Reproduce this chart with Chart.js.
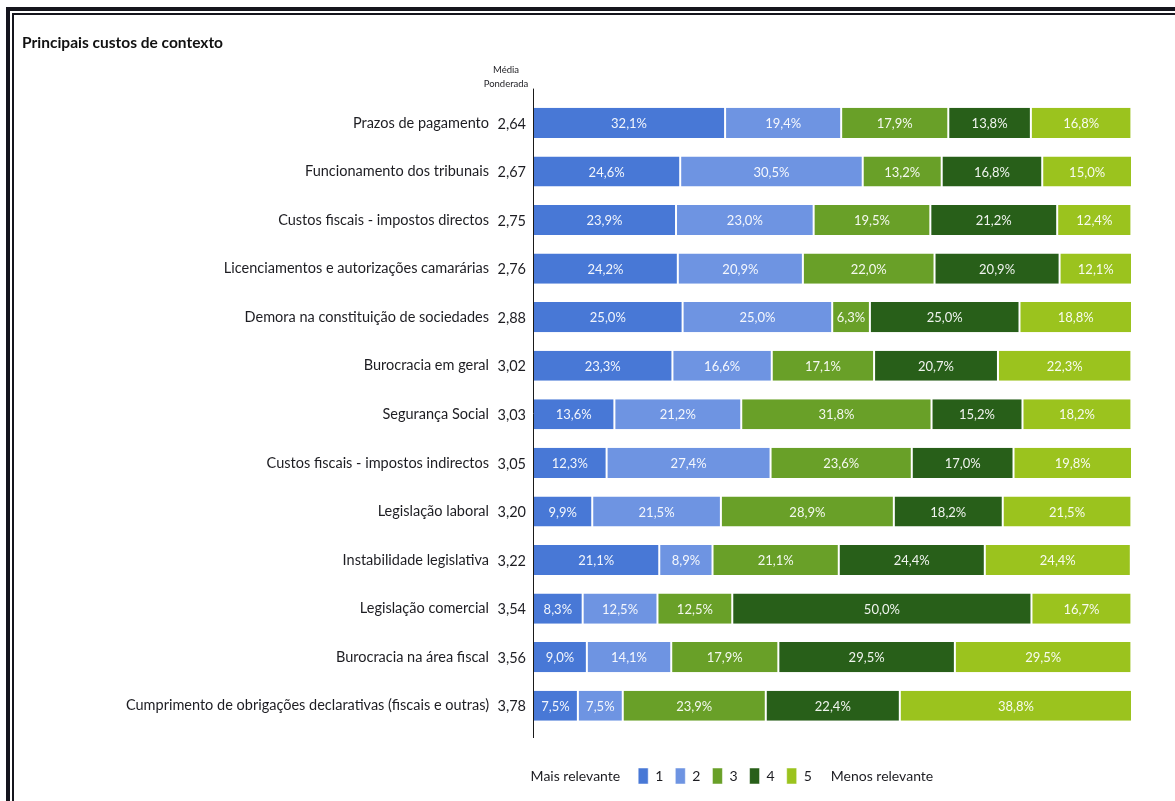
<!DOCTYPE html>
<html lang="pt">
<head>
<meta charset="utf-8">
<title>Principais custos de contexto</title>
<script src="https://cdn.jsdelivr.net/npm/chart.js@4.4.1/dist/chart.umd.min.js"></script>
<style>
  html, body { margin: 0; padding: 0; background: #ffffff; }
  #wrap { position: relative; width: 1175px; height: 801px; overflow: hidden; background: #ffffff; }
  #wrap canvas { position: absolute; left: 0; top: 0; }
  .rule { position: absolute; background: #15151d; }
</style>
</head>
<body>
<div id="wrap">
  <!-- double frame rule, top and left -->
  <div class="rule" style="left:6px;top:7px;width:4px;height:794px"></div>
  <div class="rule" style="left:6px;top:7px;width:1169px;height:4px"></div>
  <div class="rule" style="left:12px;top:13px;width:2px;height:788px"></div>
  <div class="rule" style="left:12px;top:13px;width:1163px;height:2px"></div>
  <canvas id="chart" width="1175" height="801"></canvas>
</div>
<script>
// Cost items, ordered by weighted average of relevance
const categorias = [
  'Prazos de pagamento',
  'Funcionamento dos tribunais',
  'Custos fiscais - impostos directos',
  'Licenciamentos e autorizações camarárias',
  'Demora na constituição de sociedades',
  'Burocracia em geral',
  'Segurança Social',
  'Custos fiscais - impostos indirectos',
  'Legislação laboral',
  'Instabilidade legislativa',
  'Legislação comercial',
  'Burocracia na área fiscal',
  'Cumprimento de obrigações declarativas (fiscais e outras)'
];

const mediaPonderada = [2.64, 2.67, 2.75, 2.76, 2.88, 3.02, 3.03, 3.05, 3.20, 3.22, 3.54, 3.56, 3.78];

// Share of answers (%) per relevance level, 1 = most relevant, 5 = least relevant
const nivel1 = [32.1, 24.6, 23.9, 24.2, 25.0, 23.3, 13.6, 12.3,  9.9, 21.1,  8.3,  9.0,  7.5];
const nivel2 = [19.4, 30.5, 23.0, 20.9, 25.0, 16.6, 21.2, 27.4, 21.5,  8.9, 12.5, 14.1,  7.5];
const nivel3 = [17.9, 13.2, 19.5, 22.0,  6.3, 17.1, 31.8, 23.6, 28.9, 21.1, 12.5, 17.9, 23.9];
const nivel4 = [13.8, 16.8, 21.2, 20.9, 25.0, 20.7, 15.2, 17.0, 18.2, 24.4, 50.0, 29.5, 22.4];
const nivel5 = [16.8, 15.0, 12.4, 12.1, 18.8, 22.3, 18.2, 19.8, 21.5, 24.4, 16.7, 29.5, 38.8];

const niveis = ['1', '2', '3', '4', '5'];
const cores = ['#4878d6', '#6e94e2', '#69a028', '#285f19', '#9bc31e'];

const fonte = "Lato, 'Open Sans', 'DejaVu Sans', sans-serif";
const corTexto = '#1d1d22';

const series = [nivel1, nivel2, nivel3, nivel4, nivel5];
const totalMax = Math.max(...categorias.map((_, i) => series.reduce((s, d) => s + d[i], 0)));

const virgula = (v, casas) => v.toFixed(casas).replace('.', ',');

// Percent labels inside each segment, weighted-average column, header and axis line
const anotacoes = {
  id: 'anotacoes',
  afterDatasetsDraw(chart) {
    const ctx = chart.ctx;
    const area = chart.chartArea;
    const y = chart.scales.y;

    ctx.save();
    ctx.font = `13px ${fonte}`;
    ctx.fillStyle = 'rgba(255,255,255,0.93)';
    ctx.textAlign = 'center';
    ctx.textBaseline = 'middle';
    chart.data.datasets.forEach((ds, di) => {
      chart.getDatasetMeta(di).data.forEach((bar, i) => {
        const v = ds.data[i];
        ctx.fillText(virgula(v, 1) + '%', (bar.x + bar.base) / 2, bar.y + 1);
      });
    });

    // axis line, running a little past the first and last rows
    ctx.strokeStyle = '#1a1a1a';
    ctx.lineWidth = 1;
    ctx.beginPath();
    ctx.moveTo(Math.round(area.left) + 0.5, area.top - 10);
    ctx.lineTo(Math.round(area.left) + 0.5, area.bottom + 8);
    ctx.stroke();

    // weighted average column
    ctx.font = `14.5px ${fonte}`;
    ctx.fillStyle = corTexto;
    ctx.textAlign = 'right';
    mediaPonderada.forEach((m, i) => {
      ctx.fillText(virgula(m, 2), area.left - 7, y.getPixelForValue(i) + 1);
    });

    ctx.font = `9.5px ${fonte}`;
    ctx.textAlign = 'center';
    ctx.fillText('Média', area.left - 27, area.top - 29);
    ctx.fillText('Ponderada', area.left - 27, area.top - 15);
    ctx.restore();
  },
  afterLayout(chart) {
    // centre the legend row under the bars' left half
    const lg = chart.legend;
    const delta = 725 - (lg.left + lg.right) / 2;
    lg.left += delta;
    lg.right += delta;
  },
  afterDraw(chart) {
    const lg = chart.legend;
    const pad = lg.options.labels.padding;
    const lw = lg.lineWidths[0];
    const inicio = (lg.left + pad + lg.right - lw) / 2;
    const fim = inicio + lw - pad;
    const yc = lg.top + pad + 8;
    const ctx = chart.ctx;
    ctx.save();
    ctx.font = `14px ${fonte}`;
    ctx.fillStyle = corTexto;
    ctx.textBaseline = 'middle';
    ctx.textAlign = 'right';
    ctx.fillText('Mais relevante', inicio - 18, yc);
    ctx.textAlign = 'left';
    ctx.fillText('Menos relevante', fim + 19, yc);
    ctx.restore();
  }
};

new Chart(document.getElementById('chart'), {
  type: 'bar',
  data: {
    labels: categorias,
    datasets: series.map((d, i) => ({
      label: niveis[i],
      data: d,
      backgroundColor: cores[i],
      borderColor: '#ffffff',
      borderWidth: { left: 1, right: 1, top: 0, bottom: 0 },
      borderSkipped: false,
      barPercentage: 0.62,
      categoryPercentage: 1
    }))
  },
  options: {
    indexAxis: 'y',
    responsive: false,
    animation: false,
    devicePixelRatio: 1,
    layout: { padding: { left: 22, right: 43, top: 34, bottom: 7 } },
    scales: {
      x: {
        stacked: true,
        min: 0,
        max: totalMax,
        ticks: { display: false },
        grid: { display: false },
        border: { display: false },
        afterFit(s) { s.height = 26; }
      },
      y: {
        stacked: true,
        grid: { display: false, drawTicks: false },
        border: { display: false },
        ticks: { padding: 44, color: corTexto, font: { family: fonte, size: 14.5 } },
        afterFit(s) { s.width = 511; }
      }
    },
    plugins: {
      title: {
        display: true,
        text: 'Principais custos de contexto',
        align: 'start',
        color: '#111111',
        font: { family: fonte, size: 15.5, weight: 'bold' },
        padding: { top: 0, bottom: 46 }
      },
      legend: {
        position: 'bottom',
        labels: {
          boxWidth: 10,
          boxHeight: 16,
          padding: 12,
          color: corTexto,
          font: { family: fonte, size: 14 }
        }
      },
      tooltip: { enabled: false }
    }
  },
  plugins: [anotacoes]
});
</script>
</body>
</html>
